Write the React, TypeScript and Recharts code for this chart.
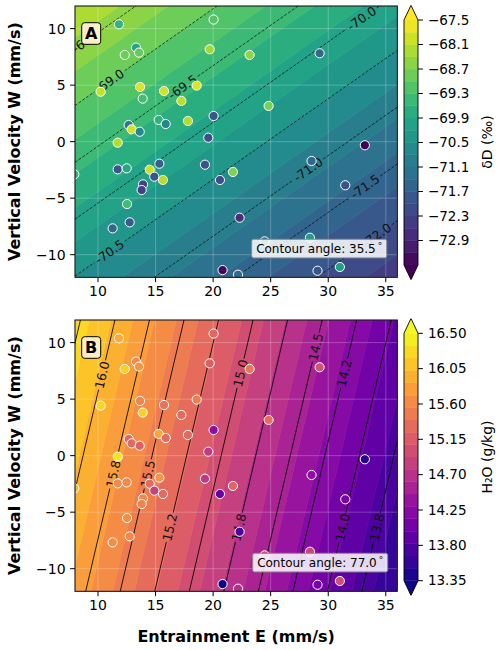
import React from 'react';
import { ComposedChart, Area, Line, Scatter, XAxis, YAxis, CartesianGrid } from 'recharts';

const FONT = '"DejaVu Sans", sans-serif';

// sample positions, shared by both panels
const sampleE = [11.82, 20.04, 13.3, 12.32, 13.56, 19.7, 23.17, 29.25, 10.23, 13.65, 15.73, 18.57, 13.88, 17.24, 24.82, 12.66, 12.92, 13.62, 15.27, 15.88, 17.81, 20.04, 19.58, 11.71, 33.18, 11.71, 12.49, 14.49, 15.33, 14.89, 15.64, 19.29, 21.72, 20.59, 13.91, 13.79, 28.55, 31.48, 12.52, 11.27, 12.75, 22.3, 24.47, 28.41, 20.82, 22.16, 29.07, 31.01, 7.94];
const sampleW = [10.38, 10.8, 8.32, 7.67, 7.88, 8.17, 7.67, 7.82, 4.42, 4.84, 4.48, 4.96, 3.81, 3.6, 3.16, 1.47, 1.09, 0.88, 1.92, 1.56, 1.83, 2.27, 0.35, -0.09, -0.32, -2.45, -2.36, -2.48, -1.95, -3.1, -3.39, -2.04, -2.68, -3.39, -3.78, -4.28, -1.71, -3.86, -5.52, -7.67, -7.14, -6.73, -8.82, -8.5, -11.36, -11.77, -11.42, -11.09, -2.89];
const sampleDD = [-69.6, -69.1, -70.0, -68.86, -68.93, -68.34, -68.5, -71.46, -68.04, -67.8, -67.92, -67.8, -69.3, -68.1, -68.7, -71.1, -67.9, -70.7, -69.64, -70.8, -68.2, -71.9, -72.06, -68.2, -73.5, -71.9, -69.87, -67.98, -71.7, -71.9, -68.16, -72.0, -68.64, -72.06, -72.3, -72.36, -71.5, -72.0, -69.36, -71.46, -71.8, -72.7, -71.2, -70.2, -73.4, -71.49, -71.95, -70.1, -69.6];
const sampleH2O = [15.9, 15.27, 15.6, 16.18, 15.7, 15.2, 15.4, 15.05, 16.22, 15.55, 15.37, 15.5, 16.2, 15.3, 15.33, 15.24, 15.28, 15.2, 15.87, 15.3, 15.28, 14.3, 14.77, 16.34, 13.48, 15.62, 15.6, 15.32, 15.71, 14.86, 15.3, 14.78, 15.25, 13.98, 15.6, 15.55, 14.3, 14.1, 15.65, 15.64, 15.6, 13.73, 14.93, 14.9, 13.35, 14.65, 14.08, 15.0, 16.0];

const eDomain = [8, 36];
const wDomain = [-12, 12];
const xTicks = [10, 15, 20, 25, 30, 35];
const yTicks = [-10, -5, 0, 5, 10];

// δD plane: iso-lines at 35.5°, the -69.0 line meets E=8 at W=3.2, 5.03 mm/s of W per 0.5 ‰
const dDAngle = 35.5;
const dDRef = { level: -69.0, w: 3.2, step: 0.5, spacing: 5.03 };
const dDRange = [-73.5, -67.5];
const dDTicks = [-67.5, -68.1, -68.7, -69.3, -69.9, -70.5, -71.1, -71.7, -72.3, -72.9];
const dDLines = [-68.5, -69.0, -69.5, -70.0, -70.5, -71.0, -71.5, -72.0];
const dDLabelText = ['-68.5', '-69.0', '-69.5', '-70.0', '-70.5', '-71.0', '-71.5', '-72.0'];
const dDLabelE = [9.0, 11.0, 17.35, 32.9, 11.0, 28.25, 33.2, 34.2];

// H2O plane: iso-lines at 77°, the 16.0 line meets W=12 at E=11.47, 3.0 mm/s of E per 0.25 g/kg
const h2oAngle = 77.0;
const h2oRef = { level: 16.0, e: 11.47, step: 0.25, spacing: 3.0 };
const h2oRange = [13.35, 16.5];
const h2oTicks = [16.5, 16.05, 15.6, 15.15, 14.7, 14.25, 13.8, 13.35];
const h2oLines = [16.25, 16.0, 15.75, 15.5, 15.25, 15.0, 14.75, 14.5, 14.25, 14.0, 13.75];
const h2oLabelText = [null, '16.0', '15.8', '15.5', '15.2', '15.0', '14.8', '14.5', '14.2', '14.0', '13.8'];
const h2oLabelW = [null, 7.14, -1.62, -1.62, -6.34, 7.29, -6.34, 9.6, 7.29, -6.34, -6.34];

const VIRIDIS = ['#440154', '#482475', '#414487', '#355f8d', '#2a788e', '#21918c', '#22a884', '#44bf70', '#7ad151', '#bddf26', '#fde725'];
const PLASMA = ['#0d0887', '#41049d', '#6a00a8', '#8f0da4', '#b12a90', '#cc4778', '#e16462', '#f2844b', '#fca636', '#fcce25', '#f0f921'];

const N_BANDS = 20;
const EXTEND = 0.06;

const CHART_W = 420;
const CHART_H = 310;
const PLOT = { left: 75, top: 6, right: 397.3, bottom: 277.3 };
const Y_AXIS_W = 40;
const X_AXIS_H = 30;
const PX_E = (PLOT.right - PLOT.left) / (eDomain[1] - eDomain[0]);
const PX_W = (PLOT.bottom - PLOT.top) / (wDomain[1] - wDomain[0]);
const LABEL_SIZE = 12.5;

const hex = (h: string) => [1, 3, 5].map((i) => parseInt(h.slice(i, i + 2), 16));
const cmapColor = (stops: string[], t: number) => {
  const c = Math.min(1, Math.max(0, t)) * (stops.length - 1);
  const i = Math.min(stops.length - 2, Math.floor(c));
  const f = c - i;
  const a = hex(stops[i]);
  const b = hex(stops[i + 1]);
  const m = a.map((v, j) => Math.round(v + (b[j] - v) * f));
  return `rgb(${m[0]},${m[1]},${m[2]})`;
};
const colorOf = (stops: string[], range: number[], v: number) => cmapColor(stops, (v - range[0]) / (range[1] - range[0]));
const levelsOf = (range: number[]) => Array.from({ length: N_BANDS + 1 }, (_, i) => range[0] + ((range[1] - range[0]) * i) / N_BANDS);
const minus = (s: string) => s.replace('-', '\u2212');

const tanA = Math.tan((dDAngle * Math.PI) / 180);
const tanB = Math.tan((h2oAngle * Math.PI) / 180);
const dDLineW = (level: number, e: number) => dDRef.w + ((level - dDRef.level) / dDRef.step) * dDRef.spacing + tanA * (e - eDomain[0]);
const h2oLineE = (level: number, w: number) => h2oRef.e + ((h2oRef.level - level) / h2oRef.step) * h2oRef.spacing + (w - wDomain[1]) / tanB;
const h2oLineW = (level: number, e: number) => wDomain[1] + tanB * (e - h2oLineE(level, wDomain[1]));

// on-screen angle of the iso-lines
const rotA = (Math.atan((tanA * PX_W) / PX_E) * 180) / Math.PI;
const rotB = (Math.atan((tanB * PX_W) / PX_E) * 180) / Math.PI;
const halfGap = (text: string) => text.length * LABEL_SIZE * 0.27 + 1.5;

function bandRows(range: number[], lineW: (l: number, e: number) => number) {
  const lv = levelsOf(range);
  return [eDomain[0] - 1, eDomain[1] + 1].map((e) => {
    const r: any = { E: e };
    for (let k = 0; k < N_BANDS; k++) r['b' + k] = [lineW(lv[k], e), lineW(lv[k + 1], e)];
    return r;
  });
}
const bandColors = (range: number[], stops: string[]) => {
  const lv = levelsOf(range);
  return lv.slice(0, -1).map((l, k) => colorOf(stops, range, (l + lv[k + 1]) / 2));
};

// panel A iso-lines, parametrised by E, broken where the label sits
const linesA = dDLines.map((level, i) => {
  const eL = dDLabelE[i];
  const text = dDLabelText[i];
  const d = (halfGap(text) * Math.cos((rotA * Math.PI) / 180)) / PX_E;
  const at = (e: number) => ({ E: e, W: dDLineW(level, e) });
  return {
    pts: [at(eDomain[0] - 1), at(eL - d), { E: eL, W: null }, at(eL + d), at(eDomain[1] + 1)],
    label: { E: eL, W: dDLineW(level, eL), text },
  };
});

// panel B iso-lines, parametrised by W
const linesB = h2oLines.map((level, i) => {
  const wL = h2oLabelW[i];
  const text = h2oLabelText[i];
  const at = (w: number) => ({ E: h2oLineE(level, w), W: w });
  if (wL === null || text === null) return { pts: [at(wDomain[0] - 1), at(wDomain[1] + 1)], label: null };
  const d = (halfGap(text) * Math.sin((rotB * Math.PI) / 180)) / PX_W;
  return {
    pts: [at(wDomain[0] - 1), at(wL - d), { E: h2oLineE(level, wL), W: null }, at(wL + d), at(wDomain[1] + 1)],
    label: { E: h2oLineE(level, wL), W: wL, text },
  };
});

const pointsA = sampleE.map((e, i) => ({ E: e, W: sampleW[i], fill: colorOf(VIRIDIS, dDRange, sampleDD[i]) }));
const pointsB = sampleE.map((e, i) => ({ E: e, W: sampleW[i], fill: colorOf(PLASMA, h2oRange, sampleH2O[i]) }));

const tickStyle = { fill: '#000', fontSize: 14, fontFamily: FONT };

function Panel(props: { top: number; rows: any[]; colors: string[]; lines: any[]; rot: number; dash?: string; points: any[] }) {
  const { top, rows, colors, lines, rot, dash, points } = props;
  const labels = lines.map((l) => l.label).filter(Boolean);
  return (
    <div style={{ position: 'absolute', left: 0, top, width: CHART_W, height: CHART_H }}>
      <ComposedChart
        width={CHART_W}
        height={CHART_H}
        data={rows}
        margin={{ top: PLOT.top, right: CHART_W - PLOT.right, left: PLOT.left - Y_AXIS_W, bottom: CHART_H - PLOT.bottom - X_AXIS_H }}
      >
        <XAxis dataKey="E" type="number" domain={eDomain} ticks={xTicks} interval={0} allowDataOverflow height={X_AXIS_H}
          axisLine={false} tickLine={{ stroke: '#000' }} tickSize={4.9} tickMargin={4} tick={tickStyle} />
        <YAxis dataKey="W" type="number" domain={wDomain} ticks={yTicks} interval={0} allowDataOverflow width={Y_AXIS_W}
          axisLine={false} tickLine={{ stroke: '#000' }} tickSize={4.9} tickMargin={4.5} tick={tickStyle}
          tickFormatter={(v: number) => minus(String(v))} />
        {colors.map((c, k) => (
          <Area key={k} dataKey={'b' + k} type="linear" fill={c} fillOpacity={1} stroke={c} strokeWidth={0.7}
            dot={false} activeDot={false} isAnimationActive={false} />
        ))}
        <CartesianGrid stroke="#ffffff" strokeOpacity={0.3} strokeWidth={0.8} zIndex={150} />
        {lines.map((l, i) => (
          <Line key={i} data={l.pts} dataKey="W" type="linear" stroke="#000" strokeOpacity={0.85} strokeWidth={dash ? 0.8 : 1}
            strokeDasharray={dash} dot={false} activeDot={false} connectNulls={false} isAnimationActive={false} />
        ))}
        <Scatter data={labels} dataKey="W" isAnimationActive={false}
          shape={(p: any) => (
            <text x={p.cx} y={p.cy} transform={`rotate(${-rot}, ${p.cx}, ${p.cy})`} textAnchor="middle" dominantBaseline="central"
              fontSize={LABEL_SIZE} fontFamily={FONT} fill="#111">{p.payload.text}</text>
          )} />
        <Scatter data={points} dataKey="W" isAnimationActive={false}
          shape={(p: any) => <circle cx={p.cx} cy={p.cy} r={4.6} fill={p.payload.fill} stroke="#ffffff" strokeWidth={1} />} />
      </ComposedChart>
    </div>
  );
}

function ColorBar(props: { top: number; range: number[]; ticks: number[]; digits: number; stops: string[]; vmaxY: number; vminY: number }) {
  const { top, range, ticks, digits, stops, vmaxY, vminY } = props;
  const [vmin, vmax] = range;
  const ext = EXTEND * (vmax - vmin);
  const lv = levelsOf(range);
  const colors = bandColors(range, stops);
  const rows = [0, 0.5, 1].map((x) => {
    const r: any = { x };
    for (let k = 0; k < N_BANDS; k++) r['c' + k] = [lv[k], lv[k + 1]];
    r.over = [vmax, x === 0.5 ? vmax + ext : vmax];
    r.under = [x === 0.5 ? vmin - ext : vmin, vmin];
    return r;
  });
  const outline = [
    { x: 0, v: vmin }, { x: 0, v: vmax }, { x: 0.5, v: vmax + ext }, { x: 1, v: vmax },
    { x: 1, v: vmin }, { x: 0.5, v: vmin - ext }, { x: 0, v: vmin },
  ];
  const pxPerUnit = (vminY - vmaxY) / (vmax - vmin);
  const plotTop = vmaxY - ext * pxPerUnit;
  const plotBottom = vminY + ext * pxPerUnit;
  const W = 500;
  const H = 300;
  return (
    <div style={{ position: 'absolute', left: 0, top, width: W, height: H }}>
      <ComposedChart width={W} height={H} data={rows} margin={{ top: plotTop, bottom: H - plotBottom, left: 404, right: W - 418 - 60 }}>
        <XAxis dataKey="x" type="number" domain={[0, 1]} hide />
        <YAxis orientation="right" type="number" domain={[vmin - ext, vmax + ext]} ticks={ticks} interval={0} allowDataOverflow width={60}
          axisLine={false} tickLine={{ stroke: '#000' }} tickSize={4.9} tickMargin={5} tick={{ ...tickStyle, fontSize: 13.5 }}
          tickFormatter={(v: number) => minus(v.toFixed(digits))} />
        {colors.map((c, k) => (
          <Area key={k} dataKey={'c' + k} type="linear" fill={c} fillOpacity={1} stroke={c} strokeWidth={0.5}
            dot={false} activeDot={false} isAnimationActive={false} />
        ))}
        <Area dataKey="over" type="linear" fill={stops[stops.length - 1]} fillOpacity={1} stroke="none" dot={false} activeDot={false} isAnimationActive={false} />
        <Area dataKey="under" type="linear" fill={stops[0]} fillOpacity={1} stroke="none" dot={false} activeDot={false} isAnimationActive={false} />
        <Line data={outline} dataKey="v" type="linear" stroke="#000" strokeWidth={0.9} dot={false} activeDot={false} isAnimationActive={false} />
      </ComposedChart>
    </div>
  );
}

function AngleBox({ x, y, angle }: { x: number; y: number; angle: string }) {
  return (
    <g>
      <rect x={x} y={y} width={135} height={18.6} rx={2} fill="#ffffff" fillOpacity={0.85} stroke="#8c8c8c" strokeWidth={1} />
      <text x={x + 67.5} y={y + 9.6} textAnchor="middle" dominantBaseline="central" fontSize={12} fontFamily={FONT} fill="#000">
        Contour angle: {angle}<tspan dx={2} fontSize={9} dy={-3}>°</tspan>
      </text>
    </g>
  );
}

function PanelTag({ x, y, letter }: { x: number; y: number; letter: string }) {
  return (
    <g>
      <rect x={x} y={y} width={19} height={21.6} rx={3} fill="#fcefc6" stroke="#000" strokeWidth={1} />
      <text x={x + 9.5} y={y + 11.2} textAnchor="middle" dominantBaseline="central" fontSize={16} fontWeight="bold" fontFamily={FONT}>{letter}</text>
    </g>
  );
}

export default function App() {
  const offB = 314;
  return (
    <div style={{ position: 'absolute', left: 0, top: 0, width: 500, height: 650, background: '#fff' }}>
      <Panel top={0} rows={bandRows(dDRange, dDLineW)} colors={bandColors(dDRange, VIRIDIS)} lines={linesA} rot={rotA} dash="3 1.6" points={pointsA} />
      <Panel top={offB} rows={bandRows(h2oRange, h2oLineW)} colors={bandColors(h2oRange, PLASMA)} lines={linesB} rot={rotB} points={pointsB} />
      <ColorBar top={0} range={dDRange} ticks={dDTicks} digits={1} stops={VIRIDIS} vmaxY={20} vminY={265} />
      <ColorBar top={offB} range={h2oRange} ticks={h2oTicks} digits={2} stops={PLASMA} vmaxY={333.3 - offB} vminY={580.7 - offB} />
      <svg width={500} height={650} style={{ position: 'absolute', left: 0, top: 0, pointerEvents: 'none' }}>
        <rect x={PLOT.left} y={PLOT.top} width={PLOT.right - PLOT.left} height={PLOT.bottom - PLOT.top} fill="none" stroke="#000" strokeWidth={1} />
        <rect x={PLOT.left} y={PLOT.top + offB} width={PLOT.right - PLOT.left} height={PLOT.bottom - PLOT.top} fill="none" stroke="#000" strokeWidth={1} />
        <PanelTag x={81.7} y={22.7} letter="A" />
        <PanelTag x={81.7} y={22.7 + offB} letter="B" />
        <AngleBox x={251.7} y={239.3} angle="35.5" />
        <AngleBox x={252.7} y={239.3 + offB} angle="77.0" />
        <text transform={`translate(14, ${(PLOT.top + PLOT.bottom) / 2}) rotate(-90)`} textAnchor="middle" dominantBaseline="central"
          fontSize={16} fontWeight="bold" fontFamily={FONT}>Vertical Velocity W (mm/s)</text>
        <text transform={`translate(14, ${(PLOT.top + PLOT.bottom) / 2 + offB}) rotate(-90)`} textAnchor="middle" dominantBaseline="central"
          fontSize={16} fontWeight="bold" fontFamily={FONT}>Vertical Velocity W (mm/s)</text>
        <text x={(PLOT.left + PLOT.right) / 2} y={636} textAnchor="middle" dominantBaseline="central" fontSize={16} fontWeight="bold" fontFamily={FONT}>
          Entrainment E (mm/s)
        </text>
        <text transform="translate(487, 142) rotate(-90)" textAnchor="middle" dominantBaseline="central" fontSize={14} fontFamily={FONT}>δD (‰)</text>
        <text transform="translate(487, 457) rotate(-90)" textAnchor="middle" dominantBaseline="central" fontSize={14} fontFamily={FONT}>H₂O (g/kg)</text>
      </svg>
    </div>
  );
}
